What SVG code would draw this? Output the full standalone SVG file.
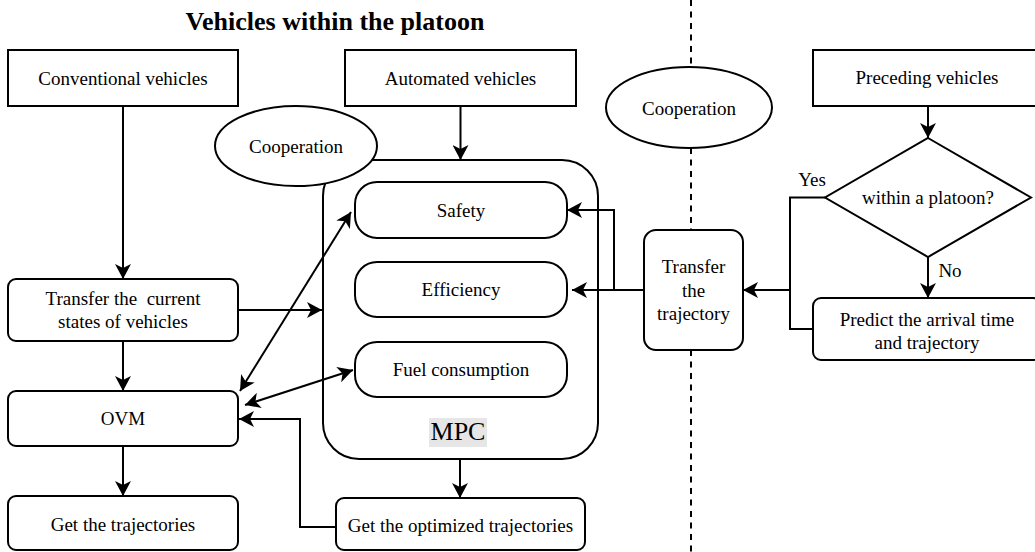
<svg xmlns="http://www.w3.org/2000/svg" width="1035" height="552" viewBox="0 0 1035 552">
<style>
.box{fill:#fff;stroke:#000;stroke-width:2}
.ln{fill:none;stroke:#000;stroke-width:2}
.t{font-family:"Liberation Serif","Times New Roman",serif;font-size:19px;fill:#000;text-anchor:middle}
.title{font-family:"Liberation Serif","Times New Roman",serif;font-size:26px;font-weight:bold;fill:#000;text-anchor:middle}
.dash{fill:none;stroke:#000;stroke-width:2;stroke-dasharray:6 5.5}
</style>
<defs>
<marker id="ah" markerUnits="userSpaceOnUse" markerWidth="16" markerHeight="16" refX="15" refY="8" orient="auto-start-reverse" viewBox="0 0 16 16">
<path d="M0,0 L15,8 L0,16 L4,8 Z" fill="#000"/>
</marker>
</defs>
<rect width="1035" height="552" fill="#fff"/>
<text class="title" x="335" y="30">Vehicles within the platoon</text>

<g id="divider">
<line class="dash" x1="691" y1="0" x2="691" y2="67"/>
<line class="dash" x1="691" y1="148" x2="691" y2="230"/>
<line class="dash" x1="691" y1="350" x2="691" y2="552"/>
</g>

<g id="mpc">
<rect class="box" x="323" y="160" width="275" height="299" rx="36"/>
<rect x="429" y="418" width="58" height="29" fill="#e6e6e6"/>
<text class="t" x="458" y="440" style="font-size:26px">MPC</text>
</g>

<g id="coop-left">
<ellipse class="box" cx="296" cy="146" rx="81" ry="40"/>
<text class="t" x="296" y="153">Cooperation</text>
</g>

<g id="coop-right">
<ellipse class="box" cx="689" cy="107.5" rx="83" ry="40.5"/>
<text class="t" x="689" y="115">Cooperation</text>
</g>

<g id="conventional">
<rect class="box" x="8" y="50" width="230" height="56"/>
<text class="t" x="123" y="85">Conventional vehicles</text>
</g>

<g id="automated">
<rect class="box" x="345" y="50" width="231" height="56"/>
<text class="t" x="460.5" y="85">Automated vehicles</text>
</g>

<g id="preceding">
<rect class="box" x="813" y="50" width="228" height="56"/>
<text class="t" x="927" y="84">Preceding vehicles</text>
</g>

<g id="transfer-states">
<rect class="box" x="8" y="279" width="230" height="62" rx="8"/>
<text class="t" x="123" y="305" xml:space="preserve">Transfer the  current</text>
<text class="t" x="123" y="328">states of vehicles</text>
</g>

<g id="ovm">
<rect class="box" x="8" y="391" width="230" height="55" rx="8"/>
<text class="t" x="123" y="425">OVM</text>
</g>

<g id="get-traj">
<rect class="box" x="8" y="496" width="230" height="54" rx="8"/>
<text class="t" x="123" y="531">Get the trajectories</text>
</g>

<g id="safety">
<rect class="box" x="355" y="182" width="212" height="56" rx="22"/>
<text class="t" x="461" y="217">Safety</text>
</g>

<g id="efficiency">
<rect class="box" x="355" y="262" width="212" height="55" rx="22"/>
<text class="t" x="461" y="296">Efficiency</text>
</g>

<g id="fuel">
<rect class="box" x="355" y="342" width="212" height="55" rx="22"/>
<text class="t" x="461" y="376">Fuel consumption</text>
</g>

<g id="get-opt">
<rect class="box" x="336" y="498" width="249" height="52" rx="8"/>
<text class="t" x="460.5" y="532">Get the optimized trajectories</text>
</g>

<g id="transfer-traj">
<rect class="box" x="644" y="230" width="99" height="120" rx="12"/>
<text class="t" x="693.5" y="273">Transfer</text>
<text class="t" x="693.5" y="297">the</text>
<text class="t" x="693.5" y="320">trajectory</text>
</g>

<g id="decision">
<polygon class="box" points="928,138 1031,197.5 928,257 825,197.5"/>
<text class="t" x="928" y="204">within a platoon?</text>
</g>

<g id="predict">
<rect class="box" x="813" y="298" width="228" height="62" rx="8"/>
<text class="t" x="927" y="326">Predict the arrival time</text>
<text class="t" x="927" y="349">and trajectory</text>
</g>

<g id="connectors">
<line class="ln" x1="123" y1="106" x2="123" y2="279" marker-end="url(#ah)"/>
<line class="ln" x1="123" y1="341" x2="123" y2="391" marker-end="url(#ah)"/>
<line class="ln" x1="123" y1="446" x2="123" y2="496" marker-end="url(#ah)"/>
<line class="ln" x1="460.5" y1="106" x2="460.5" y2="160" marker-end="url(#ah)"/>
<line class="ln" x1="460" y1="459" x2="460" y2="498" marker-end="url(#ah)"/>
<line class="ln" x1="238" y1="310" x2="322" y2="310" marker-end="url(#ah)"/>
<line class="ln" x1="240" y1="391" x2="351" y2="212" marker-start="url(#ah)" marker-end="url(#ah)"/>
<line class="ln" x1="245" y1="405" x2="353" y2="370" marker-start="url(#ah)" marker-end="url(#ah)"/>
<polyline class="ln" points="336,527 300,527 300,419 239,419" marker-end="url(#ah)"/>
<line class="ln" x1="644" y1="290" x2="572" y2="290" marker-end="url(#ah)"/>
<polyline class="ln" points="614,290 614,210 567,210" marker-end="url(#ah)"/>
<line class="ln" x1="928" y1="106" x2="928" y2="138" marker-end="url(#ah)"/>
<line class="ln" x1="928" y1="257" x2="928" y2="298" marker-end="url(#ah)"/>
<polyline class="ln" points="825,197.5 790,197.5 790,290"/>
<polyline class="ln" points="813,329 790,329 790,290 743,290" marker-end="url(#ah)"/>
<text class="t" x="812" y="186">Yes</text>
<text class="t" x="950" y="277">No</text>
</g>
</svg>
